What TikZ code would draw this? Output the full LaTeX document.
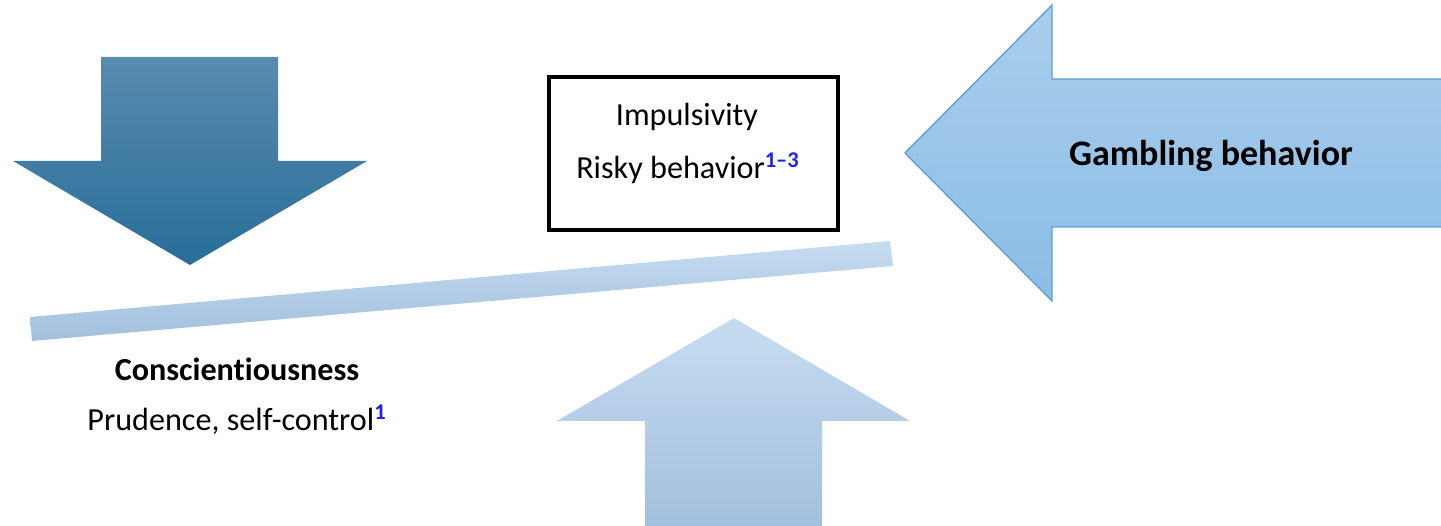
\documentclass[tikz,border=0pt]{standalone}
\usepackage{fontspec}
\setmainfont[Ligatures={NoCommon,TeX}]{Carlito}
\definecolor{darkTop}{HTML}{5A8BB0}
\definecolor{darkBot}{HTML}{276E99}
\definecolor{lightTop}{HTML}{C6DCF1}
\definecolor{lightBot}{HTML}{A2BFDD}
\definecolor{gamTop}{HTML}{AACDEC}
\definecolor{gamBot}{HTML}{8BBDE6}
\definecolor{gamLine}{HTML}{5FA0DA}
\definecolor{refblue}{HTML}{1F1FFF}
\tikzset{
  txt/.style={font=\fontsize{18.3}{22}\selectfont, inner sep=0pt},
  btxt/.style={font=\fontsize{18.3}{22}\selectfont\bfseries, inner sep=0pt},
  bigtxt/.style={font=\fontsize{20.5}{24}\selectfont\bfseries, inner sep=0pt}
}
\begin{document}
\begin{tikzpicture}[x=0.02cm,y=-0.02cm]
\useasboundingbox (0,0) rectangle (1441,526);
% down arrow
\shade[top color=darkTop, bottom color=darkBot]
  (101,57) -- (278,57) -- (278,161) -- (367,161) -- (190,265) -- (13,161) -- (101,161) -- cycle;
% gambling arrow
\shade[top color=gamTop, bottom color=gamBot, draw=gamLine, line width=0.8pt]
  (1441,79) -- (1052,79) -- (1052,5) -- (905,153) -- (1052,301) -- (1052,227) -- (1441,227);
% beam
\shade[top color=lightTop, bottom color=lightBot]
  (30,317) -- (890,241) -- (893,266) -- (32,341) -- cycle;
% up arrow
\shade[top color=lightTop, bottom color=lightBot]
  (734,318) -- (910,421) -- (822,421) -- (822,526) -- (645,526) -- (645,421) -- (557,421) -- cycle;
% box
\node[draw=black, line width=2pt, minimum width=289*0.02cm, minimum height=153*0.02cm, inner sep=0pt] (box) at (693.5,153.5) {};
\node[txt] (imp) at (687,117) {Impulsivity};
\node[txt] (risk) at (688,168) {Risky behavior\textsuperscript{\textcolor{refblue}{\textbf{1–3}}}};
\node[bigtxt] (gam) at (1211,156) {Gambling behavior};
\node[btxt] (con) at (237,369) {Conscientiousness};
\node[txt] (pru) at (237,420) {Prudence, self-control\textsuperscript{\textcolor{refblue}{\textbf{1}}}};
\end{tikzpicture}
\end{document}
